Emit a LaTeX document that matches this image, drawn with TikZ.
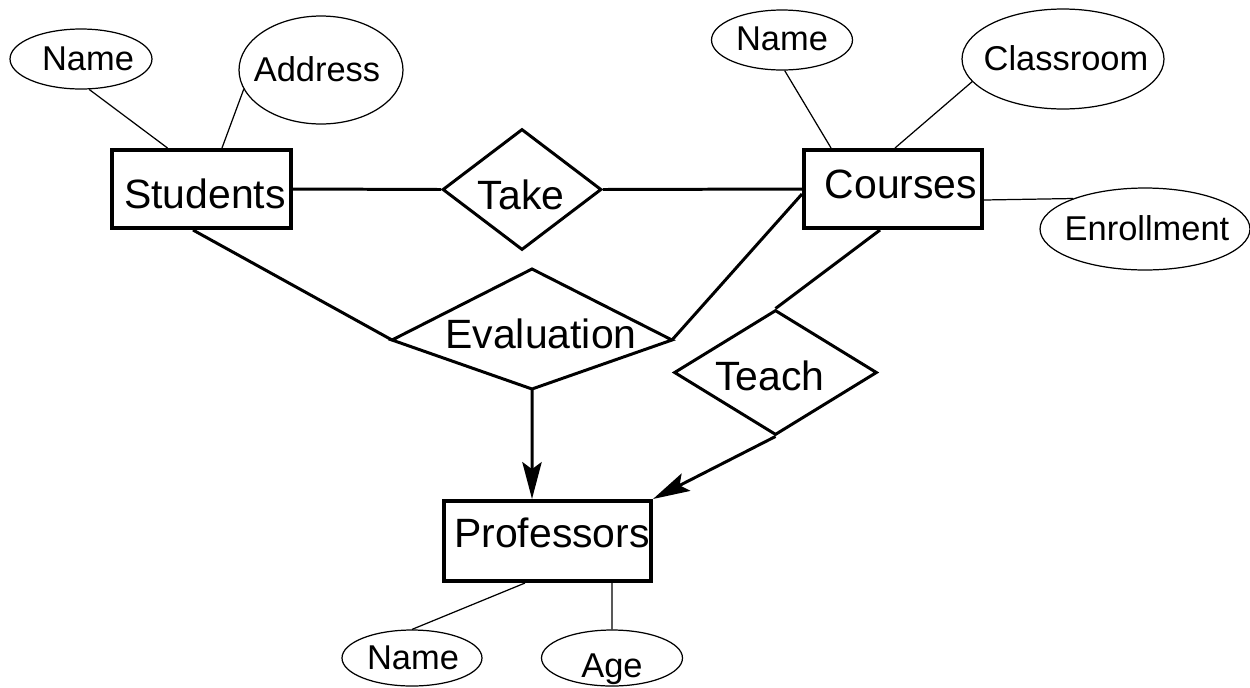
\documentclass[tikz,border=0pt]{standalone}
\usepackage{fontspec}
\setmainfont{Liberation Sans}
\usetikzlibrary{arrows.meta,shapes.geometric}
\begin{document}
\begin{tikzpicture}[x=0.02cm,y=-0.02cm,
  entity/.style={draw,line width=2.3pt,inner sep=0pt},
  reltn/.style={draw,diamond,line width=1.7pt,inner sep=0pt},
  lbl/.style={font=\fontsize{23.3}{28}\selectfont,inner sep=0pt,text height=16.8pt,text depth=0pt},
  attrib/.style={draw,ellipse,line width=0.7pt,inner sep=0pt},
  albl/.style={font=\fontsize{19.6}{24}\selectfont,inner sep=0pt,text height=14.1pt,text depth=0pt},
  thick link/.style={line width=1.7pt},
  thin link/.style={line width=0.7pt},
  arrowlink/.style={line width=1.7pt,-{Stealth[length=21pt,width=11pt,inset=4pt]}}
]
\useasboundingbox (0,0) rectangle (1250,687);

% entities
\node[entity,minimum width=3.58cm,minimum height=1.56cm] (students) at (201.5,189) {};
\node[lbl] (studentsT) at (205,194) {Students};
\node[entity,minimum width=3.56cm,minimum height=1.56cm] (courses) at (893,189) {};
\node[lbl] (coursesT) at (901,184) {Courses};
\node[entity,minimum width=4.14cm,minimum height=1.60cm] (prof) at (547.5,541) {};
\node[lbl] (profT) at (552,533) {Professors};

% relationships
\node[reltn,minimum width=3.18cm,minimum height=2.42cm] (take) at (522,189.5) {};
\node[lbl] (takeT) at (521,195) {Take};
\node[reltn,minimum width=4.06cm,minimum height=2.5cm] (teach) at (775.5,372.5) {};
\node[lbl] (teachT) at (770,376) {Teach};
\coordinate (evalL) at (392,340);
\coordinate (evalT) at (532,269);
\coordinate (evalR) at (672,340);
\coordinate (evalB) at (532,389);
\draw[line width=1.7pt,line join=miter] (evalL) -- (evalT) -- (evalR) -- (evalB) -- cycle;
\node[lbl] (evalT2) at (541,334) {Evaluation};

% attributes
\node[attrib,minimum width=2.84cm,minimum height=1.2cm] (name1) at (81,59) {};
\node[albl] (name1T) at (88,58) {Name};
\node[attrib,minimum width=3.28cm,minimum height=2.16cm] (address) at (321,70) {};
\node[albl] (addressT) at (317,69) {Address};
\node[attrib,minimum width=2.82cm,minimum height=1.2cm] (name2) at (782,40) {};
\node[albl] (name2T) at (782,38) {Name};
\node[attrib,minimum width=4.04cm,minimum height=2.0cm] (classroom) at (1063,59) {};
\node[albl] (classroomT) at (1066,58) {Classroom};
\node[attrib,minimum width=4.2cm,minimum height=1.64cm] (enroll) at (1145,229) {};
\node[albl] (enrollT) at (1147,228) {Enrollment};
\node[attrib,minimum width=2.8cm,minimum height=1.12cm] (name3) at (412,658) {};
\node[albl] (name3T) at (413,657) {Name};
\node[attrib,minimum width=2.82cm,minimum height=1.12cm] (age) at (612,658) {};
\node[albl] (ageT) at (612,665) {Age};

% attribute links
\draw[thin link] (name1.-75) -- ([xshift=-0.68cm]students.north);
\draw[thin link] (address.194) -- ([xshift=0.41cm]students.north);
\draw[thin link] (name2.-85) -- ([xshift=-1.24cm]courses.north);
\draw[thin link] (classroom.194) -- ([xshift=0.04cm]courses.north);
\draw[thin link] ([yshift=-0.22cm]courses.east) -- (enroll.157);
\draw[thin link] ([xshift=-0.45cm]prof.south) -- (name3.north);
\draw[thin link] ([xshift=1.29cm]prof.south) -- (age.north);

% relationship links
\draw[thick link] (students.east) -- (take.west);
\draw[thick link] (take.east) -- (courses.west);
\draw[thick link] ([xshift=-0.17cm]students.south) -- (evalL);
\draw[thick link] (evalR) -- ([yshift=-0.1cm]courses.west);
\draw[thick link] ([xshift=-0.26cm]courses.south) -- (teach.north);
\draw[arrowlink] (evalB) -- ([xshift=-0.31cm]prof.north);
\draw[arrowlink] (teach.south) -- (prof.north east);
\end{tikzpicture}
\end{document}
